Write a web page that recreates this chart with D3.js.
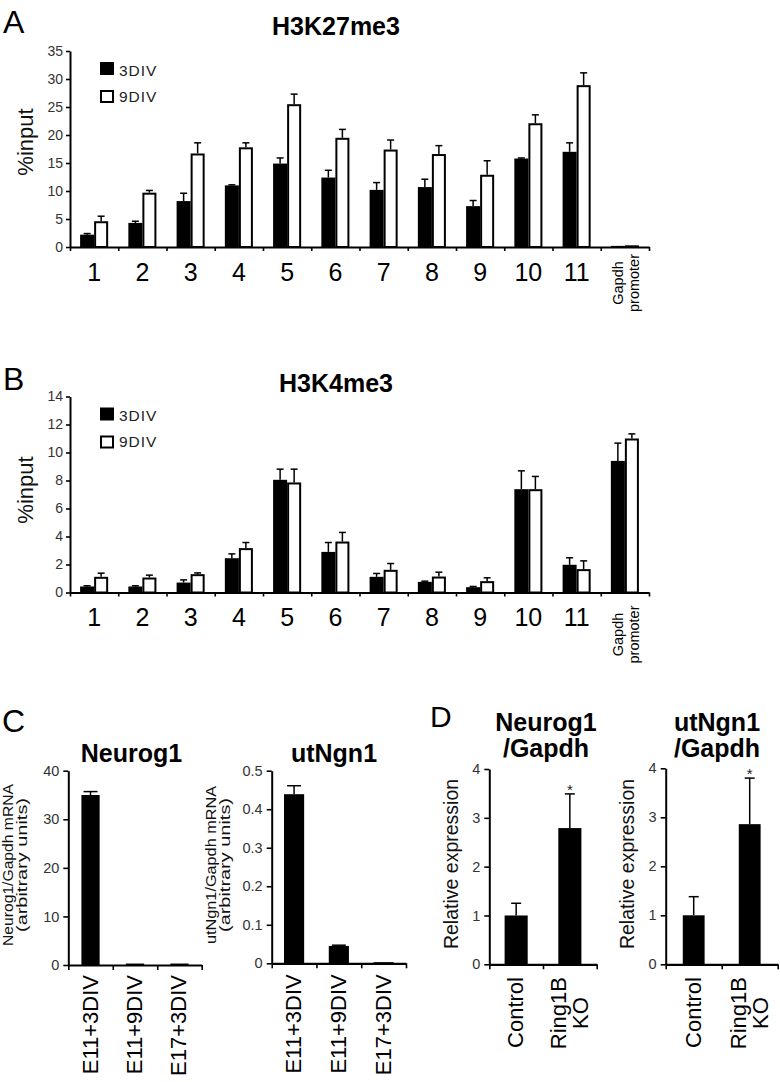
<!DOCTYPE html>
<html><head><meta charset="utf-8">
<script src="https://cdn.jsdelivr.net/npm/d3@7"></script>
<style>body{margin:0;background:#fff}svg{display:block}</style>
</head><body><script>
// ---------- DATA ----------
const siteLabels = ["1","2","3","4","5","6","7","8","9","10","11","Gapdh\npromoter"];
const seriesNames = ["3DIV","9DIV"];

const k27Ticks = [0,5,10,15,20,25,30,35];
const k27_3div     = [2.2, 4.3, 8.2, 11.0, 14.9, 12.4, 10.2, 10.7, 7.3, 15.8, 17.0, 0.2];
const k27_3div_err = [0.2, 0.3, 1.4, 0.1, 1.0, 1.3, 1.3, 1.4, 1.0, 0.1, 1.6, 0];
const k27_9div     = [4.6, 9.7, 16.7, 17.8, 25.5, 19.5, 17.4, 16.6, 12.9, 22.1, 28.9, 0.3];
const k27_9div_err = [0.9, 0.4, 1.9, 0.8, 1.8, 1.5, 1.7, 1.5, 2.5, 1.5, 2.2, 0];

const k4Ticks = [0,2,4,6,8,10,12,14];
const k4_3div     = [0.43, 0.43, 0.71, 2.45, 8.05, 2.9, 1.12, 0.76, 0.38, 7.38, 1.98, 9.4];
const k4_3div_err = [0.05, 0.05, 0.19, 0.31, 0.76, 0.67, 0.24, 0.05, 0.05, 1.31, 0.5, 1.27];
const k4_9div     = [1.12, 1.07, 1.31, 3.17, 7.86, 3.64, 1.62, 1.14, 0.81, 7.38, 1.67, 11.0];
const k4_9div_err = [0.26, 0.17, 0.09, 0.4, 0.95, 0.65, 0.45, 0.31, 0.24, 0.91, 0.59, 0.33];

const cCategories = ["E11+3DIV","E11+9DIV","E17+3DIV"];
const neurog1Ticks = [0,10,20,30,40];
const neurog1Vals = [35.0, 0.3, 0.3];
const neurog1Err  = [0.7, 0, 0];
const utngn1Ticks = [0,0.1,0.2,0.3,0.4,0.5];
const utngn1Vals = [0.439, 0.045, 0.003];
const utngn1Err  = [0.022, 0.002, 0];

const dCategories = ["Control","Ring1B\nKO"];
const relTicks = [0,1,2,3,4];
const dNeurog1Vals = [1.0, 2.79];
const dNeurog1Err  = [0.25, 0.70];
const dUtngn1Vals  = [1.0, 2.86];
const dUtngn1Err   = [0.38, 0.94];
const dSignif = ["", "*"];

// ---------- DRAWING ----------
const FONT = "'Liberation Sans', Arial, Helvetica, sans-serif";
const svg = d3.select("body").append("svg").attr("width",780).attr("height",1082)
  .attr("font-family",FONT);
const numFmt = d => d===0 ? "0" : (Number.isInteger(d) ? String(d) : d3.format(".1f")(d));

function txt(x,y,s,size,opts={}){
  const t = svg.append("text").attr("x",x).attr("y",y).attr("font-size",size).text(s)
    .attr("fill","#000");
  if(opts.bold) t.attr("font-weight","bold");
  if(opts.anchor) t.attr("text-anchor",opts.anchor);
  return t;
}

function styleY(g, fs){
  g.select(".domain").attr("stroke","#000").attr("stroke-width",2);
  g.selectAll(".tick line").attr("stroke","#000").attr("stroke-width",1.6);
  g.selectAll(".tick text").attr("font-size",fs).attr("fill","#333").attr("font-family",FONT);
}

function xBoundaryAxis(g, n, left, right, yPos, len){
  const idx = d3.scaleLinear().domain([0,n]).range([left,right]);
  const ax = g.append("g").attr("transform",`translate(0,${yPos})`)
    .call(d3.axisBottom(idx).tickValues(d3.range(0,n+1)).tickSize(len).tickSizeOuter(0).tickFormat(""));
  ax.select(".domain").attr("stroke","#000").attr("stroke-width",2.2);
  ax.selectAll(".tick line").attr("stroke","#000").attr("stroke-width",1.6);
}

function errBars(g, data, xc, y, capW){
  const e = g.selectAll(null).data(data.filter(d=>d.e>0)).join("g");
  e.append("line").attr("x1",d=>xc(d)).attr("x2",d=>xc(d))
    .attr("y1",d=>y(d.v)).attr("y2",d=>y(d.v+d.e)).attr("stroke","#000").attr("stroke-width",1.5);
  e.append("line").attr("x1",d=>xc(d)-capW/2).attr("x2",d=>xc(d)+capW/2)
    .attr("y1",d=>y(d.v+d.e)).attr("y2",d=>y(d.v+d.e)).attr("stroke","#000").attr("stroke-width",1.5);
}

function groupedPanel(cfg){
  const g = svg.append("g");
  const y = d3.scaleLinear().domain([0,cfg.max]).range([cfg.bottom,cfg.top]);
  const x0 = d3.scaleBand().domain(siteLabels).range([cfg.left,cfg.right]);
  const x1 = d3.scaleBand().domain(seriesNames).range([0,x0.bandwidth()]).paddingInner(0).paddingOuter(0.72);
  cfg.series.forEach((s,si)=>{
    const data = siteLabels.map((c,i)=>({c, v:s.vals[i], e:s.errs[i]}));
    const isW = si===1;
    g.selectAll(null).data(data).join("rect")
      .attr("x",d=>x0(d.c)+x1(s.name)+(isW?1:0))
      .attr("width",x1.bandwidth()-(isW?2:0))
      .attr("y",d=>y(d.v)+(isW?1:0))
      .attr("height",d=>Math.max(0,cfg.bottom-y(d.v)-(isW?1:0)))
      .attr("fill",isW?"#fff":"#000")
      .attr("stroke",isW?"#000":"none").attr("stroke-width",2);
    errBars(g, data, d=>x0(d.c)+x1(s.name)+x1.bandwidth()/2, y, 7);
  });
  const ya = g.append("g").attr("transform",`translate(${cfg.left},0)`)
    .call(d3.axisLeft(y).tickValues(cfg.ticks).tickSize(4).tickSizeOuter(0).tickPadding(3).tickFormat(numFmt));
  styleY(ya, 14);
  xBoundaryAxis(g, siteLabels.length, cfg.left, cfg.right, cfg.bottom, 4);
  const xa = g.append("g").attr("transform",`translate(0,${cfg.bottom})`)
    .call(d3.axisBottom(x0).tickSize(0).tickPadding(16));
  xa.select(".domain").remove();
  xa.selectAll(".tick text").attr("font-size",25).attr("fill","#000").attr("font-family",FONT)
    .each(function(d){
      if(d.includes("\n")){
        const t = d3.select(this);
        const lines = d.split("\n");
        t.text(null).attr("dy",null).attr("y",null)
          .attr("font-size",14.5)
          .attr("text-anchor","middle")
          .attr("transform",`translate(0,${cfg.gapdhOffset}) rotate(-90)`);
        lines.forEach((ln,i)=>t.append("tspan").attr("x",0).attr("y",-2+i*16).text(ln));
      }
    });
  svg.append("text").attr("transform",`translate(33,${cfg.ylabelY}) rotate(-90)`)
    .attr("text-anchor","middle").attr("font-size",22).attr("fill","#111").text("%input");
  const lg = svg.append("g").attr("transform",`translate(100,${cfg.top+11})`);
  lg.append("rect").attr("x",0).attr("y",0).attr("width",14).attr("height",13).attr("fill","#000");
  lg.append("rect").attr("x",1).attr("y",29).attr("width",12).attr("height",11)
    .attr("fill","#fff").attr("stroke","#000").attr("stroke-width",2);
  seriesNames.forEach((n,i)=>lg.append("text").attr("x",19).attr("y",13.5+i*26)
    .attr("font-size",15.5).attr("letter-spacing",1).attr("fill","#222").text(n));
  txt(cfg.titleX, cfg.titleY, cfg.title, 25, {bold:true, anchor:"middle"});
  txt(3, cfg.letterY, cfg.letter, 32);
}

groupedPanel({left:70,right:649,bottom:247,top:51,max:35,ticks:k27Ticks,
  series:[{name:"3DIV",vals:k27_3div,errs:k27_3div_err},{name:"9DIV",vals:k27_9div,errs:k27_9div_err}],
  gapdhOffset:36, ylabelY:142, title:"H3K27me3", titleX:336, titleY:35, letter:"A", letterY:33});

groupedPanel({left:70,right:649,bottom:592.5,top:396.5,max:14,ticks:k4Ticks,
  series:[{name:"3DIV",vals:k4_3div,errs:k4_3div_err},{name:"9DIV",vals:k4_9div,errs:k4_9div_err}],
  gapdhOffset:42, ylabelY:490, title:"H3K4me3", titleX:336, titleY:392, letter:"B", letterY:390});

function simplePanel(cfg){
  const g = svg.append("g");
  const y = d3.scaleLinear().domain([0,cfg.max]).range([cfg.bottom,cfg.top]);
  const x = d3.scaleBand().domain(cfg.cats).range([cfg.left,cfg.right]).paddingInner(cfg.pad).paddingOuter(cfg.pad/2);
  const data = cfg.cats.map((c,i)=>({c, v:cfg.vals[i], e:cfg.errs[i], s:cfg.sig?cfg.sig[i]:""}));
  g.selectAll(null).data(data).join("rect")
    .attr("x",d=>x(d.c)).attr("width",x.bandwidth())
    .attr("y",d=>y(d.v)).attr("height",d=>cfg.bottom-y(d.v)).attr("fill","#000");
  errBars(g, data, d=>x(d.c)+x.bandwidth()/2, y, cfg.capW);
  g.selectAll(null).data(data.filter(d=>d.s)).join("text")
    .attr("x",d=>x(d.c)+x.bandwidth()/2).attr("y",d=>y(d.v+d.e)+1)
    .attr("text-anchor","middle").attr("font-size",15).attr("fill","#222").text(d=>d.s);
  const ya = g.append("g").attr("transform",`translate(${cfg.left},0)`)
    .call(d3.axisLeft(y).tickValues(cfg.ticks).tickSize(5).tickSizeOuter(0).tickPadding(4).tickFormat(numFmt));
  styleY(ya, 14.5);
  xBoundaryAxis(g, cfg.cats.length, cfg.left, cfg.right, cfg.bottom, 5);
  const xa = g.append("g").attr("transform",`translate(0,${cfg.bottom})`)
    .call(d3.axisBottom(x).tickSize(0).tickFormat(""));
  xa.select(".domain").remove();
  xa.selectAll(".tick").each(function(d){
    const lines = d.split("\n");
    const t = d3.select(this).append("text")
      .attr("transform",`translate(0,${cfg.labelGap}) rotate(-90)`)
      .attr("font-size",22).attr("fill","#000").attr("font-family",FONT).attr("text-anchor","middle");
    const off0 = 7 - (lines.length-1)*11;
    lines.forEach((ln,i)=>t.append("tspan").attr("x",0).attr("y",off0+i*22).text(ln));
    let L = 0; t.selectAll("tspan").each(function(){L=Math.max(L,this.getComputedTextLength());});
    t.selectAll("tspan").attr("x",-L/2);
  });
  const yl = svg.append("text").attr("transform",`translate(${cfg.ylabX},${cfg.ylabY}) rotate(-90)`)
    .attr("text-anchor","middle").attr("font-size",cfg.ylabSize).attr("fill","#111");
  cfg.ylab.forEach((ln,i)=>{
    const ts = yl.append("tspan").attr("x",0).attr("y",i*cfg.ylabLH).text(ln);
    if(cfg.ylabLen) ts.attr("textLength",cfg.ylabLen[i]).attr("lengthAdjust","spacingAndGlyphs");
  });
  const tt = svg.append("text").attr("text-anchor","middle").attr("font-weight","bold")
    .attr("font-size",25).attr("fill","#000");
  cfg.title.forEach((ln,i)=>tt.append("tspan").attr("x",cfg.titleX).attr("y",cfg.titleY+i*26).text(ln));
}

simplePanel({left:68.3,right:201.7,bottom:965,top:770.7,max:40,ticks:neurog1Ticks,
  cats:cCategories,vals:neurog1Vals,errs:neurog1Err,pad:0.59,capW:14,labelGap:10,
  ylab:["Neurog1/Gapdh mRNA","(arbitrary units)"],ylabX:13,ylabY:865,ylabSize:15,ylabLH:14,ylabLen:[162,134],
  title:["Neurog1"],titleX:131.5,titleY:762});
simplePanel({left:271.7,right:406,bottom:963.3,top:770.7,max:0.5,ticks:utngn1Ticks,
  cats:cCategories,vals:utngn1Vals,errs:utngn1Err,pad:0.55,capW:14,labelGap:11,
  ylab:["utNgn1/Gapdh mRNA","(arbitrary units)"],ylabX:216,ylabY:865,ylabSize:15,ylabLH:14,ylabLen:[158,134],
  title:["utNgn1"],titleX:334,titleY:762});
simplePanel({left:489.3,right:596.7,bottom:964.3,top:769,max:4,ticks:relTicks,
  cats:dCategories,vals:dNeurog1Vals,errs:dNeurog1Err,sig:dSignif,pad:0.57,capW:10,labelGap:12.7,
  ylab:["Relative expression"],ylabX:458,ylabY:864,ylabSize:19.5,ylabLH:0,
  title:["Neurog1","/Gapdh"],titleX:546,titleY:731});
simplePanel({left:665.7,right:777.7,bottom:964.3,top:768.3,max:4,ticks:relTicks,
  cats:dCategories,vals:dUtngn1Vals,errs:dUtngn1Err,sig:dSignif,pad:0.61,capW:10,labelGap:12.7,
  ylab:["Relative expression"],ylabX:634,ylabY:864,ylabSize:19.5,ylabLH:0,
  title:["utNgn1","/Gapdh"],titleX:717,titleY:731});

txt(2,732,"C",32);
txt(430,727,"D",30);
</script></body></html>
